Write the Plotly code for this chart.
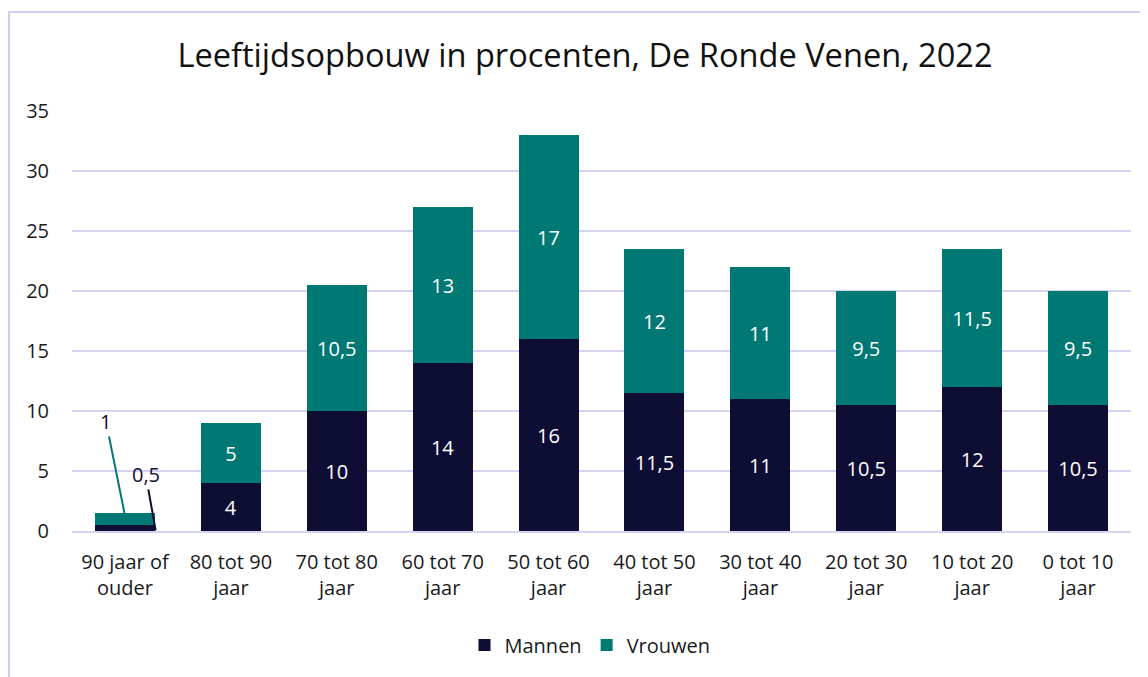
import plotly.graph_objects as go

categories = ["90 jaar of<br>ouder", "80 tot 90<br>jaar", "70 tot 80<br>jaar", "60 tot 70<br>jaar",
              "50 tot 60<br>jaar", "40 tot 50<br>jaar", "30 tot 40<br>jaar", "20 tot 30<br>jaar",
              "10 tot 20<br>jaar", "0 tot 10<br>jaar"]
mannen = [0.5, 4, 10, 14, 16, 11.5, 11, 10.5, 12, 10.5]
vrouwen = [1, 5, 10.5, 13, 17, 12, 11, 9.5, 11.5, 9.5]

NAVY = "#0e0e35"
TEAL = "#007873"
GRID = "#d4d4f0"
FONT = "Open Sans"

def fmt(v):
    return ("%g" % v).replace(".", ",")

fig = go.Figure()
fig.add_bar(name="Mannen", x=categories, y=mannen, marker=dict(color=NAVY, line=dict(width=0)),
            text=[""] + [fmt(v) for v in mannen[1:]], textposition="inside",
            insidetextanchor="middle", textfont=dict(color="white", size=20, family=FONT),
            hoverinfo="skip")
fig.add_bar(name="Vrouwen", x=categories, y=vrouwen, marker=dict(color=TEAL, line=dict(width=0)),
            text=[""] + [fmt(v) for v in vrouwen[1:]], textposition="inside",
            insidetextanchor="middle", textfont=dict(color="white", size=20, family=FONT),
            hoverinfo="skip")

# callout labels for the first bar
fig.add_annotation(x=0, y=1.3, xref="x", yref="y", text=fmt(vrouwen[0]), showarrow=True,
                   arrowhead=0, arrowwidth=2, arrowcolor=TEAL, ax=-19, ay=-94,
                   font=dict(color=NAVY, size=20, family=FONT))
fig.add_annotation(x=0.29, y=0.05, xref="x", yref="y", text=fmt(mannen[0]), showarrow=True,
                   arrowhead=0, arrowwidth=2, arrowcolor=NAVY, ax=-10, ay=-56,
                   font=dict(color=NAVY, size=20, family=FONT))

W, H = 1148, 677
L, R, T, B = 64, 25, 103, 154
pw, ph = W - L - R, H - T - B
def px_x(p): return (p - L) / pw
def px_y(p): return (H - B - p) / ph

# outer border of chart frame
fig.add_shape(type="rect", xref="paper", yref="paper",
              x0=px_x(1), x1=px_x(1160), y0=px_y(690), y1=px_y(4),
              line=dict(color="#d0d0ee", width=2), fillcolor="rgba(0,0,0,0)", layer="below")

fig.update_layout(
    width=W, height=H,
    barmode="stack", bargap=0.433,
    separators=",.",
    margin=dict(l=L, r=R, t=T, b=B),
    paper_bgcolor="white", plot_bgcolor="white",
    font=dict(family=FONT, color="#1a1a1a", size=18),
    title=dict(text="Leeftijdsopbouw in procenten, De Ronde Venen, 2022",
               x=px_x(577), xanchor="center", xref="paper", y=1 - 48 / H, yanchor="middle",
               font=dict(size=32.6, color="#111111", family=FONT)),
    xaxis=dict(showgrid=False, showline=True, linecolor=GRID, linewidth=2,
               tickfont=dict(size=20, color="#1a1a1a"), ticks="",
               ticklabelstandoff=12),
    yaxis=dict(range=[0, 35], dtick=5, showgrid=True, gridcolor=GRID, gridwidth=2,
               zeroline=False, tickfont=dict(size=20, color="#1a1a1a"), ticks="",
               ticklabelstandoff=22),
    legend=dict(orientation="h", x=px_x(582), xanchor="center", y=px_y(637), yanchor="middle",
                font=dict(size=20, color="#1a1a1a"), traceorder="normal"),
    showlegend=True,
)

fig.write_html("out.html")
